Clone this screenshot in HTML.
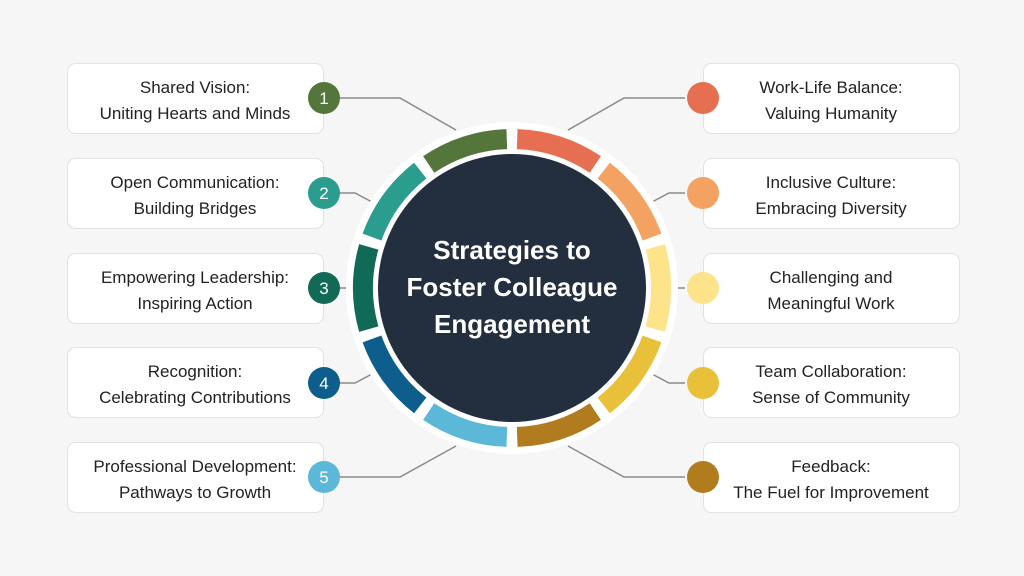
<!DOCTYPE html>
<html><head><meta charset="utf-8"><style>
body{margin:0;background:#f6f6f6;}
svg{display:block}
text{font-family:"Liberation Sans",sans-serif;}
</style></head><body>
<svg width="1024" height="576" viewBox="0 0 1024 576">
<rect width="1024" height="576" fill="#f6f6f6"/>
<g stroke="#8a8a8a" stroke-width="1.5" fill="none">
<polyline points="339,98 400,98 456,130"/>
<polyline points="339,193 355,193 372,202"/>
<polyline points="339,288 352,288"/>
<polyline points="339,383 355,383 372,374"/>
<polyline points="339,477 400,477 456,446"/>
<polyline points="685,98 624,98 568,130"/>
<polyline points="685,193 669,193 652,202"/>
<polyline points="685,288 672,288"/>
<polyline points="685,383 669,383 652,374"/>
<polyline points="685,477 624,477 568,446"/>
</g>
<circle cx="512" cy="288" r="166" fill="#fff"/>
<g fill="none" stroke-width="20">
<circle cx="512" cy="288" r="149" stroke="#e76f51" stroke-dasharray="83.2 853" transform="rotate(-88 512 288)"/>
<circle cx="512" cy="288" r="149" stroke="#f4a261" stroke-dasharray="83.2 853" transform="rotate(-52 512 288)"/>
<circle cx="512" cy="288" r="149" stroke="#fde38a" stroke-dasharray="83.2 853" transform="rotate(-16 512 288)"/>
<circle cx="512" cy="288" r="149" stroke="#e9c03a" stroke-dasharray="83.2 853" transform="rotate(20 512 288)"/>
<circle cx="512" cy="288" r="149" stroke="#b07c1e" stroke-dasharray="83.2 853" transform="rotate(56 512 288)"/>
<circle cx="512" cy="288" r="149" stroke="#5bb8d8" stroke-dasharray="83.2 853" transform="rotate(92 512 288)"/>
<circle cx="512" cy="288" r="149" stroke="#0d5e8c" stroke-dasharray="83.2 853" transform="rotate(128 512 288)"/>
<circle cx="512" cy="288" r="149" stroke="#106a55" stroke-dasharray="83.2 853" transform="rotate(164 512 288)"/>
<circle cx="512" cy="288" r="149" stroke="#2a9d8f" stroke-dasharray="83.2 853" transform="rotate(200 512 288)"/>
<circle cx="512" cy="288" r="149" stroke="#55763a" stroke-dasharray="83.2 853" transform="rotate(236 512 288)"/>
</g>
<circle cx="512" cy="288" r="134" fill="#232f3e"/>
<g fill="#fff" font-weight="bold" font-size="26" text-anchor="middle">
<text x="512" y="259">Strategies to</text>
<text x="512" y="296">Foster Colleague</text>
<text x="512" y="333">Engagement</text>
</g>
<g fill="#fff" stroke="#e2e2e2" stroke-width="1">
<rect x="67.5" y="63.5" width="256" height="70" rx="8"/>
<rect x="67.5" y="158.5" width="256" height="70" rx="8"/>
<rect x="67.5" y="253.5" width="256" height="70" rx="8"/>
<rect x="67.5" y="347.5" width="256" height="70" rx="8"/>
<rect x="67.5" y="442.5" width="256" height="70" rx="8"/>
<rect x="703.5" y="63.5" width="256" height="70" rx="8"/>
<rect x="703.5" y="158.5" width="256" height="70" rx="8"/>
<rect x="703.5" y="253.5" width="256" height="70" rx="8"/>
<rect x="703.5" y="347.5" width="256" height="70" rx="8"/>
<rect x="703.5" y="442.5" width="256" height="70" rx="8"/>
</g>
<g fill="#222" font-size="17" text-anchor="middle">
<text x="195" y="93">Shared Vision:</text><text x="195" y="119">Uniting Hearts and Minds</text>
<text x="195" y="188">Open Communication:</text><text x="195" y="214">Building Bridges</text>
<text x="195" y="283">Empowering Leadership:</text><text x="195" y="309">Inspiring Action</text>
<text x="195" y="377">Recognition:</text><text x="195" y="403">Celebrating Contributions</text>
<text x="195" y="472">Professional Development:</text><text x="195" y="498">Pathways to Growth</text>
<text x="831" y="93">Work-Life Balance:</text><text x="831" y="119">Valuing Humanity</text>
<text x="831" y="188">Inclusive Culture:</text><text x="831" y="214">Embracing Diversity</text>
<text x="831" y="283">Challenging and</text><text x="831" y="309">Meaningful Work</text>
<text x="831" y="377">Team Collaboration:</text><text x="831" y="403">Sense of Community</text>
<text x="831" y="472">Feedback:</text><text x="831" y="498">The Fuel for Improvement</text>
</g>
<circle cx="324" cy="98" r="16" fill="#55763a"/>
<circle cx="324" cy="193" r="16" fill="#2a9d8f"/>
<circle cx="324" cy="288" r="16" fill="#106a55"/>
<circle cx="324" cy="383" r="16" fill="#0d5e8c"/>
<circle cx="324" cy="477" r="16" fill="#5bb8d8"/>
<g fill="#fff" font-size="17" text-anchor="middle">
<text x="324" y="104">1</text><text x="324" y="199">2</text><text x="324" y="294">3</text><text x="324" y="389">4</text><text x="324" y="483">5</text>
</g>
<circle cx="703" cy="98" r="16" fill="#e76f51"/>
<circle cx="703" cy="193" r="16" fill="#f4a261"/>
<circle cx="703" cy="288" r="16" fill="#fde38a"/>
<circle cx="703" cy="383" r="16" fill="#e9c03a"/>
<circle cx="703" cy="477" r="16" fill="#b07c1e"/>
</svg>
</body></html>
